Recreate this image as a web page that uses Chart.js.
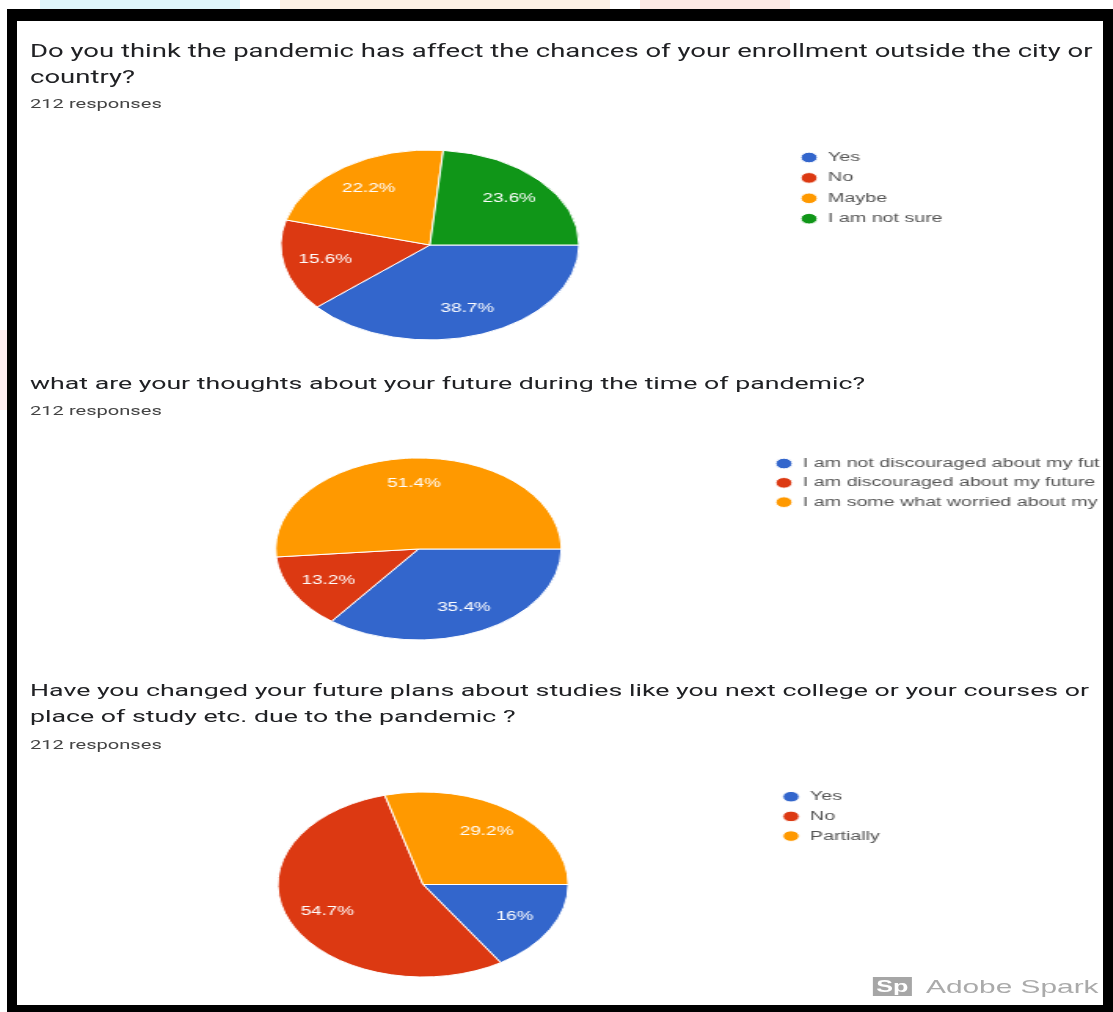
<!DOCTYPE html>
<html>
<head>
<meta charset="utf-8">
<script src="https://cdn.jsdelivr.net/npm/chart.js@4.4.1/dist/chart.umd.min.js"></script>
<style>
  html, body { margin: 0; padding: 0; background: #fff; }
  body { width: 1113px; height: 1012px; position: relative; overflow: hidden; font-family: Arial, "Liberation Sans", sans-serif; }
  .tint { position: absolute; }
  .frame {
    position: absolute; left: 7px; top: 9px; width: 1086px; height: 984px;
    border-style: solid; border-color: #000; border-width: 12px 10px 7px 10px;
    background: #fff;
  }
  /* the whole screenshot is stretched sideways, so the content is too */
  .content {
    position: absolute; left: 17px; top: 0; width: 720px; height: 1012px;
    transform: scaleX(1.57); transform-origin: 0 0;
  }
  .q { position: absolute; left: 8.3px; font-family: Roboto, Arial, sans-serif; font-size: 17px; line-height: 26px; color: #202124; white-space: nowrap; }
  .resp { position: absolute; left: 8.3px; font-family: Roboto, Arial, sans-serif; font-size: 12.8px; line-height: 16px; color: #444; white-space: nowrap; }
  canvas { position: absolute; left: 0; }
  .spark { position: absolute; top: 977px; left: 545px; height: 19px; display: flex; align-items: center; }
  .spark b { display: inline-block; width: 25px; height: 19px; background: #a6a6a6; color: #fff; font: bold 16px Arial, sans-serif; line-height: 19px; text-align: center; }
  .spark span { margin-left: 9px; font: 19px Arial, sans-serif; color: #aaa; }
</style>
</head>
<body>
<div class="tint" style="left:40px;top:0;width:200px;height:9px;background:#dff6fb"></div>
<div class="tint" style="left:280px;top:0;width:330px;height:9px;background:#fdf0e4"></div>
<div class="tint" style="left:640px;top:0;width:150px;height:9px;background:#fde9e4"></div>
<div class="tint" style="left:0;top:330px;width:7px;height:80px;background:#fdeef0"></div>
<div class="frame"></div>
<div class="content">
  <div class="q" style="top:38px;font-size:17.5px">Do you think the pandemic has affect the chances of your enrollment outside the city or<br>country?</div>
  <div class="resp" style="top:96px">212 responses</div>
  <canvas id="chart1" width="720" height="235" style="top:125px"></canvas>

  <div class="q" style="top:370px">what are your thoughts about your future during the time of pandemic?</div>
  <div class="resp" style="top:403px">212 responses</div>
  <canvas id="chart2" width="720" height="215" style="top:440px"></canvas>

  <div class="q" style="top:677px">Have you changed your future plans about studies like you next college or your courses or<br>place of study etc. due to the pandemic ?</div>
  <div class="resp" style="top:737px">212 responses</div>
  <canvas id="chart3" width="720" height="225" style="top:770px"></canvas>

  <div class="spark"><b>Sp</b><span>Adobe Spark</span></div>
</div>
<script>
const sliceColors = ['#3366cc', '#dc3912', '#ff9900', '#109618'];

const enrollLabels = ['Yes', 'No', 'Maybe', 'I am not sure'];
const enrollValues = [38.7, 15.6, 22.2, 23.6];

const futureLabels = ['I am not discouraged about my fut', 'I am discouraged about my future', 'I am some what worried about my'];
const futureValues = [35.4, 13.2, 51.4];

const plansLabels = ['Yes', 'No', 'Partially'];
const plansValues = [16, 54.7, 29.2];

const BOX_W = 11.7;

// white percentage text inside each slice
const pctLabels = {
    id: 'pctLabels',
    afterDatasetsDraw(chart) {
        const ctx = chart.ctx;
        const vals = chart.data.datasets[0].data;
        ctx.save();
        ctx.fillStyle = '#fff';
        ctx.font = '12px Arial';
        ctx.textAlign = 'center';
        ctx.textBaseline = 'middle';
        chart.getDatasetMeta(0).data.forEach((arc, i) => {
            const p = arc.getProps(['x', 'y', 'startAngle', 'endAngle', 'outerRadius'], true);
            const mid = (p.startAngle + p.endAngle) / 2;
            const r = p.outerRadius * 0.72;
            ctx.fillText(vals[i] + '%', p.x + Math.cos(mid) * r, p.y + Math.sin(mid) * r);
        });
        ctx.restore();
    }
};

function makePie(id, labels, values, cfg) {
    const legendLeft = cfg.dotX - cfg.gap - BOX_W / 2;
    const chart = new Chart(document.getElementById(id), {
        type: 'pie',
        data: {
            labels,
            datasets: [{
                data: values,
                backgroundColor: sliceColors.slice(0, values.length),
                borderColor: '#fff',
                borderWidth: 1,
                radius: cfg.radius
            }]
        },
        options: {
            responsive: false,
            animation: false,
            rotation: 90,
            layout: { padding: { left: 2 * cfg.cx - legendLeft, right: 20, top: cfg.top, bottom: cfg.bottom } },
            plugins: {
                tooltip: { enabled: false },
                legend: {
                    position: 'right',
                    align: 'start',
                    labels: {
                        usePointStyle: true,
                        pointStyle: 'circle',
                        boxWidth: BOX_W,
                        boxHeight: 7.5,
                        padding: cfg.gap,
                        color: '#555',
                        font: { family: 'Arial', size: 12.5 }
                    }
                }
            }
        },
        plugins: [pctLabels]
    });
    // second pass: slide the legend so it starts where the reference has it
    const pad = chart.options.layout.padding;
    pad.right += chart.legend.left - legendLeft;
    chart.update();
    return chart;
}

makePie('chart1', enrollLabels, enrollValues, { cx: 263, dotX: 504.5, radius: 95, gap: 7.9, top: 18.35, bottom: 13.35 });
makePie('chart2', futureLabels, futureValues, { cx: 255.7, dotX: 488.5, radius: 91, gap: 6.8, top: 10.5, bottom: 7.5 });
makePie('chart3', plansLabels, plansValues, { cx: 258.6, dotX: 493, radius: 92.5, gap: 7.2, top: 13.25, bottom: 9.25 });
</script>
</body>
</html>
